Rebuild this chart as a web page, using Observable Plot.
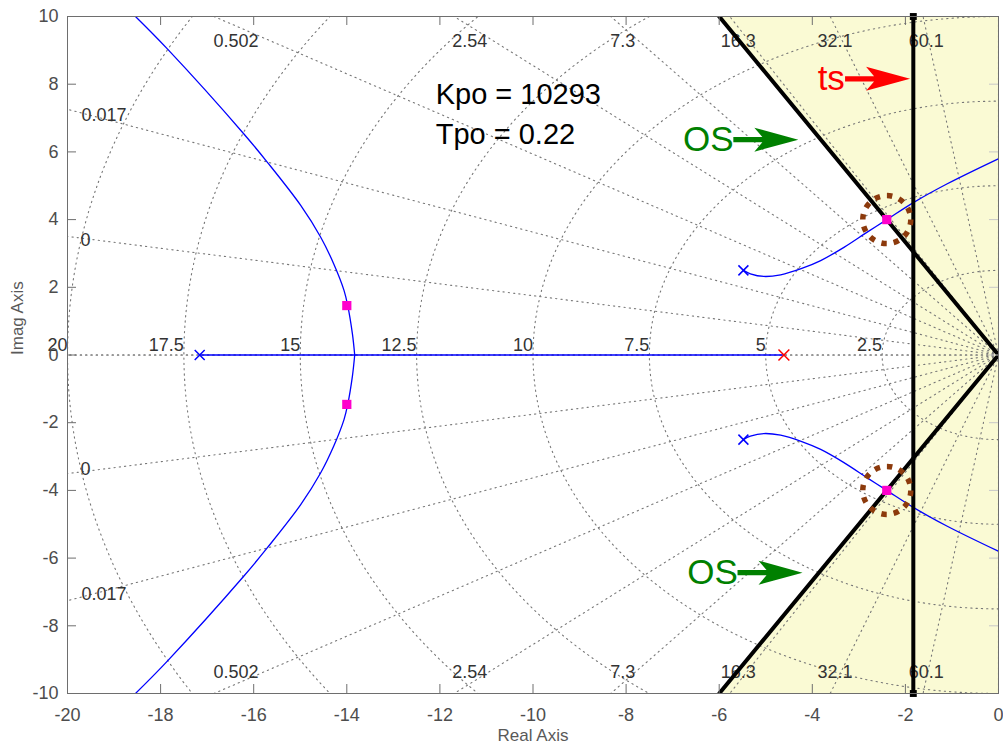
<!DOCTYPE html>
<html>
<head>
<meta charset="utf-8">
<script src="https://cdn.jsdelivr.net/npm/d3@7"></script>
<script src="https://cdn.jsdelivr.net/npm/@observablehq/plot@0.6"></script>
<style>
  body { margin: 0; background: #fff; }
  #chart svg { display: block; }
</style>
</head>
<body>
<div id="chart"></div>
<script>
// ---- Open-loop poles ----
const polesBlueX = [-17.16, -5.48, -5.48];
const polesBlueY = [0, 2.50, -2.50];
const poleRedX = [-4.61];
const poleRedY = [0];

// ---- Root locus branches ----
// Real-axis segment
const realAxisLocusX = [-17.16, -4.61];
// Branch leaving the breakaway point (upper half; lower half is its conjugate)
const branchFarX = [-13.83, -13.88, -13.98, -14.06, -14.28, -14.56, -14.99, -15.71, -16.21, -17.86, -18.54];
const branchFarY = [0, 0.63, 1.46, 1.91, 2.69, 3.48, 4.42, 5.70, 6.53, 9.05, 10];
// Branch starting at the complex pole (upper half; lower half is its conjugate)
const branchNearX = [-5.48, -5.33, -5.04, -4.68, -4.24, -3.82, -3.32, -2.82, -2.40, -1.82, -1.10, 0];
const branchNearY = [2.50, 2.40, 2.32, 2.37, 2.55, 2.79, 3.18, 3.63, 4.00, 4.51, 5.06, 5.80];

// ---- Closed-loop poles at the chosen gain ----
const designX = [-2.4, -2.4, -14.0, -14.0];
const designY = [4.0, -4.0, 1.46, -1.46];
// Dominant pair highlighted with a ring
const ringX = [-2.4, -2.4];
const ringY = [4.0, -4.0];

// ---- Specification boundaries ----
const osLineX = [-6, 0, -6];
const osLineY = [10, 0, -10];
const tsX = -1.83;

// ---- s-plane grid ----
const wnValues = [2.5, 5, 7.5, 10, 12.5, 15, 17.5, 20];
const zetaValues = [0, 0.16, 0.34, 0.5, 0.64, 0.76, 0.86, 0.94, 0.985, 1];
const edgeLabels = ["0.502", "2.54", "7.3", "16.3", "32.1", "60.1"];
const edgeLabelX = [-16.38, -11.36, -8.07, -5.59, -3.51, -1.55];
const edgeLabelTopY = 9.28;
const edgeLabelBottomY = -9.36;
const sideLabels = ["0.017", "0"];
const sideLabelX = [-19.70, -19.72];
const sideLabelY = [7.08, 3.38];

// ---- Axes ----
const xTicks = [-20, -18, -16, -14, -12, -10, -8, -6, -4, -2, 0];
const yTicks = [-10, -8, -6, -4, -2, 0, 2, 4, 6, 8, 10];

// ---- Annotations ----
const gainText = ["Kpo = 10293", "Tpo = 0.22"];
const gainTextX = -12.09;
const gainTextY = [7.42, 6.24];
const arrowLabels = ["OS", "OS", "ts"];
const arrowTipX = [-4.30, -4.21, -1.90];
const arrowTipY = [6.36, -6.43, 8.16];
const arrowTextX = [-5.69, -5.60, -3.30];
const arrowColors = ["#008000", "#008000", "#ff0000"];

// ---------------------------------------------------------------------
const W = 1003, H = 754;
const mL = 67, mR = 5, mT = 16, mB = 61;
const plotW = W - mL - mR, plotH = H - mT - mB;
const font = "'Liberation Sans', Arial, Helvetica, sans-serif";

// Grid geometry: constant-wn arcs in the left half plane and constant-zeta rays
const arcs = wnValues.flatMap(r =>
  d3.range(-90, 90.01, 1).map(a => ({r, x: -r * Math.cos(a * Math.PI / 180), y: r * Math.sin(a * Math.PI / 180)}))
);
const rays = zetaValues.flatMap(z => [1, -1].flatMap(s => [
  {k: `${z}${s}`, x: 0, y: 0},
  {k: `${z}${s}`, x: -40 * z, y: s * 40 * Math.sqrt(1 - z * z)}
]));

// Shaded acceptable region: outside the overshoot wedge or right of the ts line
const yEdge = Math.abs(osLineY[0] / osLineX[0] * tsX); // OS boundary height at x = tsX
const shade = [
  {g: "a", x: osLineX[0], y1: osLineY[0], y2: osLineY[0]},
  {g: "a", x: tsX, y1: yEdge, y2: 10},
  {g: "a", x: tsX, y1: -10, y2: 10},
  {g: "a", x: 0, y1: -10, y2: 10},
  {g: "b", x: osLineX[2], y1: osLineY[2], y2: osLineY[2]},
  {g: "b", x: tsX, y1: -10, y2: -yEdge},
  {g: "b", x: tsX + 0.05, y1: -10, y2: -yEdge}
];

// Locus polylines
const locus = [
  ...realAxisLocusX.map(x => ({b: "real", x, y: 0})),
  ...branchFarX.map((x, i) => ({b: "farU", x, y: branchFarY[i]})),
  ...branchFarX.map((x, i) => ({b: "farL", x, y: -branchFarY[i]})),
  ...branchNearX.map((x, i) => ({b: "nearU", x, y: branchNearY[i]})),
  ...branchNearX.map((x, i) => ({b: "nearL", x, y: -branchNearY[i]}))
];
const osLine = osLineX.map((x, i) => ({x, y: osLineY[i]}));

// Filled arrow (shaft + swept head) with its tip at the anchor point, pointing right
const arrowSymbol = {
  draw(ctx) {
    ctx.moveTo(0, 0);
    ctx.lineTo(-44, -12);
    ctx.lineTo(-36, -2.6);
    ctx.lineTo(-65, -2.6);
    ctx.lineTo(-65, 2.6);
    ctx.lineTo(-36, 2.6);
    ctx.lineTo(-44, 12);
    ctx.closePath();
  }
};

const gridStroke = "#777";
const gridDash = "1.3,4";
const axisGray = "#6e6e6e";
const tickGray = "#4d4d4d";

const chart = Plot.plot({
  width: W,
  height: H,
  marginLeft: mL,
  marginRight: mR,
  marginTop: mT,
  marginBottom: mB,
  x: {domain: [-20, 0], axis: null},
  y: {domain: [-10, 10], axis: null},
  style: {fontFamily: font, background: "#fff", overflow: "visible"},
  marks: [
    // acceptable region
    Plot.areaY(shade, {x: "x", y1: "y1", y2: "y2", z: "g", fill: "#fafad4", curve: "linear"}),

    // s-plane grid
    Plot.line(arcs, {x: "x", y: "y", z: "r", stroke: gridStroke, strokeWidth: 1.1, strokeDasharray: gridDash, clip: true}),
    Plot.line(rays, {x: "x", y: "y", z: "k", stroke: gridStroke, strokeWidth: 1.1, strokeDasharray: gridDash, clip: true}),

    // grid labels
    Plot.text(wnValues, {x: d => -d, y: 0, text: d => String(d), textAnchor: "end", lineAnchor: "bottom", dy: -4.5, fontSize: 18, fill: "#333"}),
    Plot.text(edgeLabels, {x: (d, i) => edgeLabelX[i], y: edgeLabelTopY, text: d => d, fontSize: 18, fill: "#333"}),
    Plot.text(edgeLabels, {x: (d, i) => edgeLabelX[i], y: edgeLabelBottomY, text: d => d, fontSize: 18, fill: "#333"}),
    Plot.text(sideLabels, {x: (d, i) => sideLabelX[i], y: (d, i) => sideLabelY[i], text: d => d, textAnchor: "start", fontSize: 18, fill: "#333"}),
    Plot.text(sideLabels, {x: (d, i) => sideLabelX[i], y: (d, i) => -sideLabelY[i], text: d => d, textAnchor: "start", fontSize: 18, fill: "#333"}),

    // root locus
    Plot.line(locus, {x: "x", y: "y", z: "b", stroke: "#0000ff", strokeWidth: 1.3, curve: "catmull-rom", clip: true}),

    // overshoot boundary and settling-time line
    Plot.line(osLine, {x: "x", y: "y", stroke: "#000", strokeWidth: 4, strokeLinejoin: "miter", clip: true}),
    Plot.ruleX([tsX], {stroke: "#000", strokeWidth: 4}),
    Plot.dot([10, -10], {x: tsX, y: d => d, symbol: "square", r: 3.9, fill: "#000"}),

    // poles
    Plot.dot(polesBlueX, {x: d => d, y: (d, i) => polesBlueY[i], symbol: "times", r: 4.6, stroke: "#0000ff", strokeWidth: 1.5}),
    Plot.dot(poleRedX, {x: d => d, y: (d, i) => poleRedY[i], symbol: "times", r: 5, stroke: "#ff0000", strokeWidth: 1.5}),

    // closed-loop poles
    Plot.dot(designX, {x: d => d, y: (d, i) => designY[i], symbol: "square", r: 5.2, fill: "#ff00cc"}),
    Plot.dot(ringX, {x: d => d, y: (d, i) => ringY[i], r: 24, fill: "none", stroke: "#8c3a0c", strokeWidth: 5.5, strokeDasharray: "5.5,7"}),

    // annotations
    Plot.text(gainText, {x: gainTextX, y: (d, i) => gainTextY[i], text: d => d, textAnchor: "start", lineAnchor: "bottom", fontSize: 29, fill: "#000"}),
    Plot.dot(arrowLabels, {x: (d, i) => arrowTipX[i], y: (d, i) => arrowTipY[i], symbol: arrowSymbol, fill: (d, i) => arrowColors[i], stroke: "none"}),
    Plot.text(arrowLabels, {x: (d, i) => arrowTextX[i], y: (d, i) => arrowTipY[i], text: d => d, textAnchor: "end", fontSize: 35, fill: (d, i) => arrowColors[i]}),

    // axis ticks (inward, on all sides)
    Plot.tickX(xTicks, {x: d => d, insetTop: plotH - 9, stroke: axisGray}),
    Plot.tickX(xTicks, {x: d => d, insetBottom: plotH - 9, stroke: axisGray}),
    Plot.tickY(yTicks, {y: d => d, insetRight: plotW - 9, stroke: axisGray}),
    Plot.tickY(yTicks, {y: d => d, insetLeft: plotW - 9, stroke: "#c8c8c8"}),
    Plot.frame({stroke: axisGray, strokeWidth: 1}),

    // tick labels and axis titles
    Plot.text(xTicks, {x: d => d, frameAnchor: "bottom", lineAnchor: "bottom", dy: 27, text: d => String(d), fontSize: 18, fill: tickGray}),
    Plot.text(yTicks, {y: d => d, frameAnchor: "left", textAnchor: "end", dx: -9, text: d => String(d), fontSize: 18, fill: tickGray}),
    Plot.text(["Real Axis"], {frameAnchor: "bottom", dy: 47, text: d => d, fontSize: 17, fill: "#595959"}),
    Plot.text(["Imag Axis"], {frameAnchor: "left", dx: -49.5, rotate: -90, text: d => d, fontSize: 17, fill: "#595959"})
  ]
});

document.getElementById("chart").appendChild(chart);
</script>
</body>
</html>
